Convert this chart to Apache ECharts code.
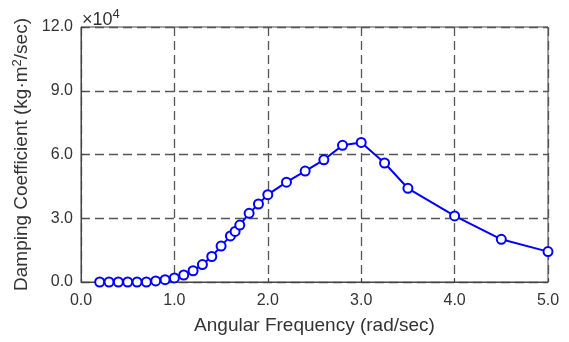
<!DOCTYPE html>
<html><head><meta charset="utf-8">
<script src="https://cdn.jsdelivr.net/npm/echarts@6/dist/echarts.min.js"></script>
<style>html,body{margin:0;padding:0;background:#fff}#c{width:569px;height:342px}</style>
</head><body><div id="c"></div>
<script>
var frequency = [0.2,0.3,0.4,0.5,0.6,0.7,0.8,0.9,1.0,1.1,1.2,1.3,1.4,1.5,1.6,1.65,1.7,1.8,1.9,2.0,2.2,2.4,2.6,2.8,3.0,3.25,3.5,4.0,4.5,5.0];
var damping = [0,0,0,0,0,0,500,1100,1900,3300,5300,8200,12000,16900,21700,23800,26800,32300,36700,41100,47000,52200,57500,64300,65700,56000,44100,31100,20100,14300];
var xTicks = [0,1,2,3,4,5];
var yTicks = [0,30000,60000,90000,120000];

var font = 'Liberation Sans, Arial, sans-serif';
var chart = echarts.init(document.getElementById('c'), null, {renderer:'canvas'});
var pts = frequency.map(function(f,i){return [f, damping[i]];});
chart.setOption({
  animation:false,
  grid:{left:81, right:21, top:27, bottom:60, show:true, borderColor:'#444', borderWidth:1},
  xAxis:{type:'value', min:0, max:5, interval:1,
    name:'Angular Frequency (rad/sec)', nameLocation:'middle', nameGap:34,
    nameTextStyle:{fontFamily:font, fontSize:19, color:'#333'},
    axisLine:{show:true, lineStyle:{color:'#444'}},
    axisTick:{show:true, inside:true, length:4, lineStyle:{color:'#444'}},
    axisLabel:{fontFamily:font, fontSize:16, color:'#333', margin:11, formatter:function(v){return v.toFixed(1);}},
    splitLine:{show:true, lineStyle:{color:'#555', type:[9,5], width:1.3}}
  },
  yAxis:{type:'value', min:0, max:120000, interval:30000,
    name:'Damping Coefficient (kg·m{sup|2}/sec)', nameLocation:'middle', nameGap:37,
    nameTextStyle:{fontFamily:font, fontSize:19, color:'#333', rich:{sup:{fontFamily:font, fontSize:13, color:'#333', verticalAlign:'top', padding:[0,0,9,0]}}},
    axisLine:{show:true, lineStyle:{color:'#444'}},
    axisTick:{show:true, inside:true, length:4, lineStyle:{color:'#444'}},
    axisLabel:{fontFamily:font, fontSize:16, color:'#333', margin:8, formatter:function(v){return (v/10000).toFixed(1);}},
    splitLine:{show:true, lineStyle:{color:'#555', type:[9,5], width:1.3}}
  },
  graphic:[{type:'text', left:82, top:8, style:{text:'×10{s|4}', fontFamily:font, fontSize:18, fill:'#333',
     rich:{s:{fontFamily:font, fontSize:13, fill:'#333', padding:[0,0,11,0]}}}}],
  series:[{type:'line', data:pts, symbol:'circle', symbolSize:9, showSymbol:true,
    lineStyle:{color:'#0000ff', width:2},
    itemStyle:{color:'#ffffff', borderColor:'#0000ff', borderWidth:2},
    clip:false
  }]
});
</script></body></html>
